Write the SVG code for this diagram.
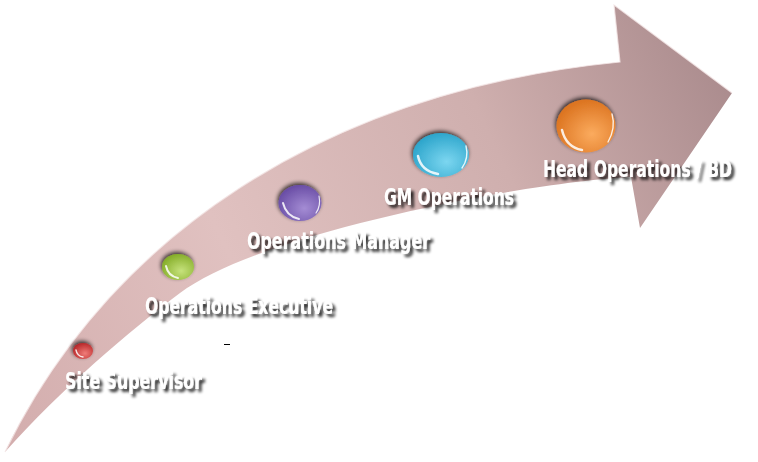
<svg xmlns="http://www.w3.org/2000/svg" width="758" height="462" viewBox="0 0 758 462">
<defs>
<linearGradient id="arrowGrad" gradientUnits="userSpaceOnUse" x1="0" y1="440" x2="740" y2="90">
<stop offset="0" stop-color="#d3adad"/>
<stop offset="0.35" stop-color="#e0c1c0"/>
<stop offset="0.7" stop-color="#cfafae"/>
<stop offset="1" stop-color="#aa8b8d"/>
</linearGradient>
<radialGradient id="gRed" cx="0.6" cy="0.65" r="0.65"><stop offset="0" stop-color="#f07c78"/><stop offset="1" stop-color="#b8282a"/></radialGradient>
<radialGradient id="gGreen" cx="0.6" cy="0.65" r="0.65"><stop offset="0" stop-color="#c6e27c"/><stop offset="1" stop-color="#86ae2a"/></radialGradient>
<radialGradient id="gPurple" cx="0.6" cy="0.65" r="0.65"><stop offset="0" stop-color="#a48cd4"/><stop offset="1" stop-color="#6a4ea6"/></radialGradient>
<radialGradient id="gCyan" cx="0.6" cy="0.65" r="0.65"><stop offset="0" stop-color="#7cd6f0"/><stop offset="1" stop-color="#2ea6cc"/></radialGradient>
<radialGradient id="gOrange" cx="0.6" cy="0.65" r="0.65"><stop offset="0" stop-color="#fbab5e"/><stop offset="1" stop-color="#dc7420"/></radialGradient>
<filter id="ballShadow" x="-40%" y="-40%" width="180%" height="180%">
<feGaussianBlur in="SourceAlpha" stdDeviation="2"/>
<feOffset dx="-1" dy="-2" result="b"/>
<feComponentTransfer in="b" result="s"><feFuncA type="linear" slope="0.75"/></feComponentTransfer>
<feMerge><feMergeNode in="s"/><feMergeNode in="SourceGraphic"/></feMerge>
</filter>
<filter id="textShadow" x="-10%" y="-30%" width="125%" height="170%">
<feGaussianBlur in="SourceAlpha" stdDeviation="1.6"/>
<feOffset dx="3" dy="3" result="b"/>
<feComponentTransfer in="b" result="s"><feFuncA type="linear" slope="0.85"/></feComponentTransfer>
<feMerge><feMergeNode in="s"/><feMergeNode in="SourceGraphic"/></feMerge>
</filter>
</defs>
<style>
.lbl{font-family:"Liberation Sans Narrow","DejaVu Sans Condensed","DejaVu Sans",sans-serif;font-weight:bold;font-stretch:condensed;font-size:23px;fill:#ffffff;filter:url(#textShadow)}
.ball{filter:url(#ballShadow)}
.hl{fill:none;stroke:#ffffff;stroke-linecap:round;opacity:0.85}
</style>
<g id="arrow">
<path d="M5,452 C108,240 320,92 620,62 L614,5 L732,93 L640,228 L631,177 C520,183 260,233 180,293 C130,330.5 60,390 5,452 Z" fill="url(#arrowGrad)"/>
<path d="M5,452 C108,240 320,92 620,62 L614,5 L732,93" fill="none" stroke="#f4e6e6" stroke-width="1.2" opacity="0.8"/>
</g>
<g id="node-site-supervisor">
<g class="ball">
<ellipse cx="83" cy="351" rx="10" ry="8" fill="url(#gRed)"/>
</g>
<path class="hl" stroke-width="1.5" d="M76,350 Q77,356 83,357"/>
<text class="lbl" x="65" y="389" textLength="137" lengthAdjust="spacingAndGlyphs">Site Supervisor</text>
</g>
<g id="node-operations-executive">
<g class="ball">
<ellipse cx="178" cy="267" rx="16" ry="13" fill="url(#gGreen)"/>
</g>
<path class="hl" stroke-width="2" d="M166,266 Q168,276 178,278"/>
<text class="lbl" x="145" y="314" textLength="188" lengthAdjust="spacingAndGlyphs">Operations Executive</text>
</g>
<g id="node-operations-manager">
<g class="ball">
<ellipse cx="300" cy="203" rx="21.5" ry="18" fill="url(#gPurple)"/>
</g>
<path class="hl" stroke-width="2" d="M283,203 Q286,216 299,219"/>
<path class="hl" stroke-width="1.2" d="M319,196 Q321,206 316,213"/>
<text class="lbl" x="247" y="249" textLength="183" lengthAdjust="spacingAndGlyphs">Operations Manager</text>
</g>
<g id="node-gm-operations">
<g class="ball">
<ellipse cx="441" cy="155" rx="28" ry="22" fill="url(#gCyan)"/>
</g>
<path class="hl" stroke-width="2.5" d="M418,156 Q421,171 438,174"/>
<path class="hl" stroke-width="1.4" d="M466,146 Q469,158 462,168"/>
<text class="lbl" x="384" y="205" textLength="130" lengthAdjust="spacingAndGlyphs">GM Operations</text>
</g>
<g id="node-head-operations">
<g class="ball">
<ellipse cx="586" cy="126" rx="29.5" ry="26.5" fill="url(#gOrange)"/>
</g>
<path class="hl" stroke-width="2.5" d="M562,130 Q566,147 582,150"/>
<path class="hl" stroke-width="1.4" d="M612,114 Q616,128 608,142"/>
<text class="lbl" x="543" y="177" textLength="189" lengthAdjust="spacingAndGlyphs">Head Operations / BD</text>
</g>
<g id="connectors"></g>
<line x1="224" y1="344.5" x2="230" y2="344.5" stroke="#000000" stroke-width="1"/>
</svg>
